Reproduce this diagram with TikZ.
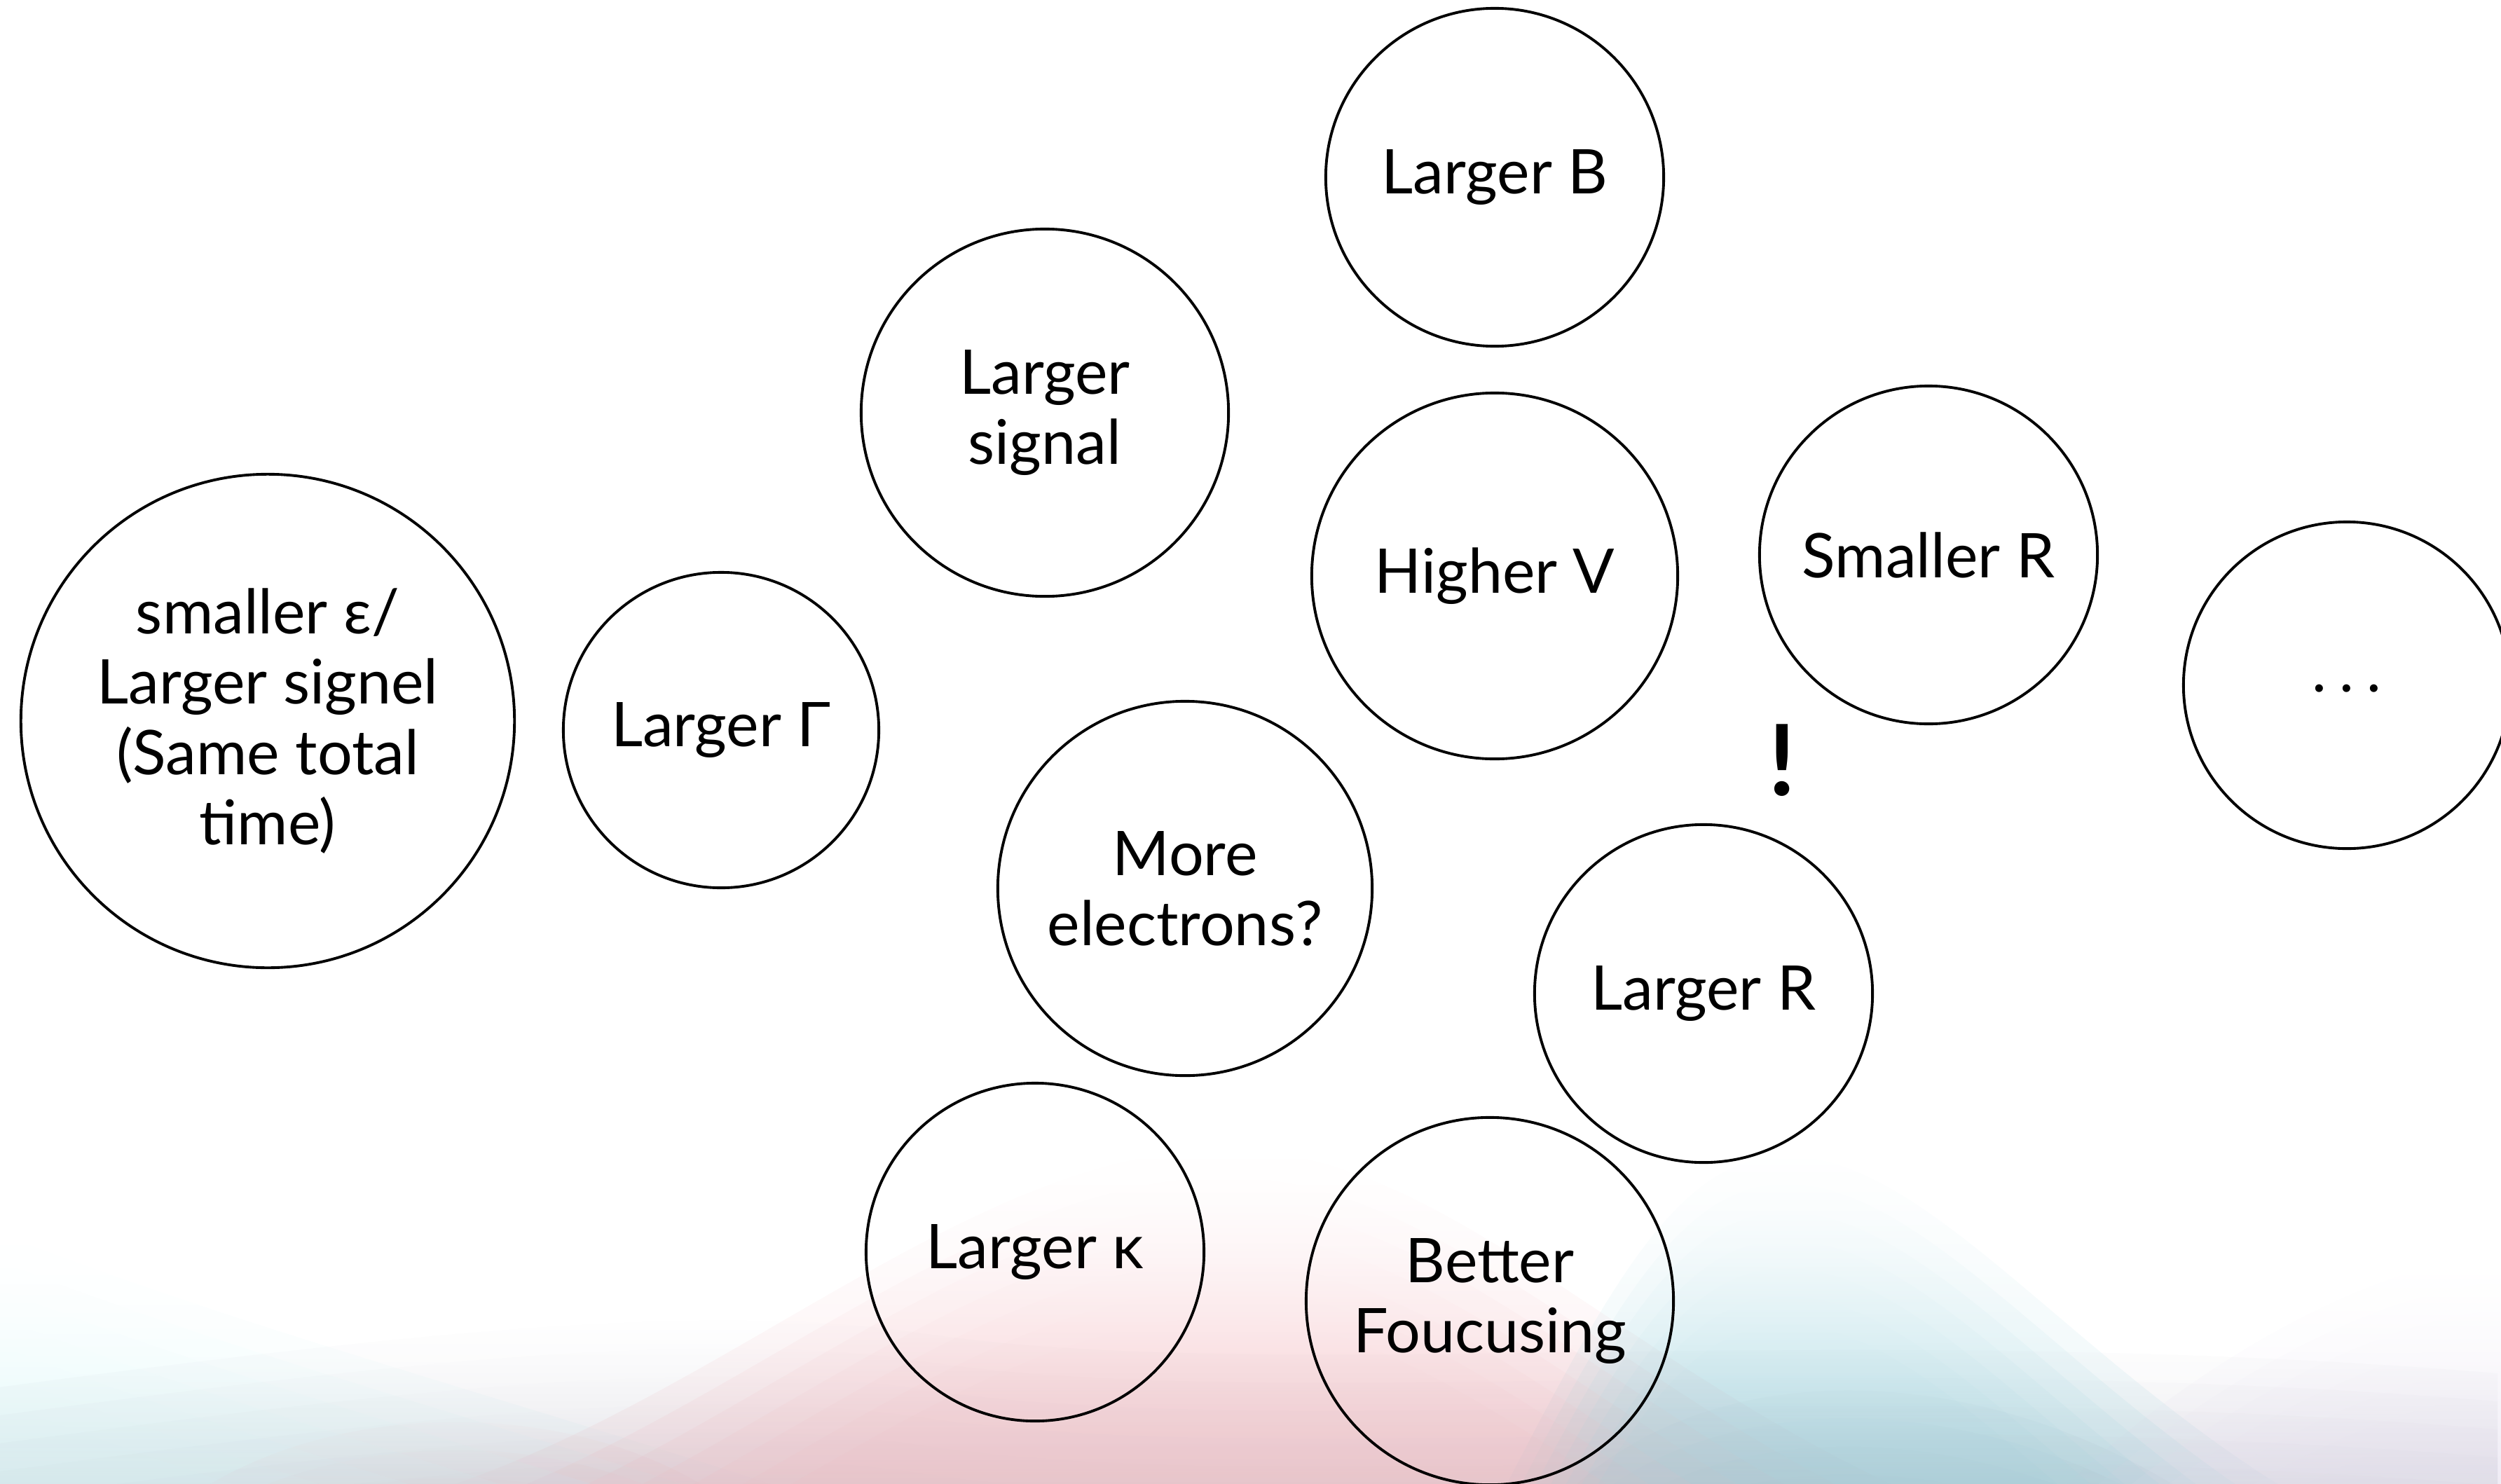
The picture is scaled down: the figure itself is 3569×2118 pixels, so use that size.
\documentclass[tikz,border=0pt]{standalone}
\usepackage{fontspec}
\setmainfont{Lato}
\usetikzlibrary{fadings}
\definecolor{wavegray}{HTML}{C9C9D3}
\definecolor{wavepink}{HTML}{F2B8BE}
\definecolor{waveteal}{HTML}{9ED3DE}
\definecolor{wavecyan}{HTML}{D2F6F7}
\definecolor{wavelav}{HTML}{E6E0EF}
\definecolor{waveslate}{HTML}{A3B9C3}
\tikzfading[name=softtop, top color=transparent!100, bottom color=transparent!0]
\begin{document}
\begin{tikzpicture}[
x=0.01cm, y=-0.01cm,
bubble/.style={circle, draw=black, line width=1.1pt, align=center, inner sep=0pt, font=\fontsize{25}{28.5}\selectfont},
wave/.style={draw=none, path fading=softtop, opacity=0.2},
]
\useasboundingbox (0,0) rectangle (3569,2118);
%Background
\foreach \k in {0,...,6} {
\begin{scope}[yshift=-\k*4mm]
\fill[wave, wavecyan] (0,1760) .. controls (300,1880) and (700,1990) .. (1100,2118) -- (0,2118) -- cycle;
\fill[wave, wavegray] (0,1980) .. controls (600,1900) and (1000,1860) .. (1300,1900) .. controls (1800,1980) and (2600,1880) .. (3569,1960) -- (3569,2118) -- (0,2118) -- cycle;
\fill[wave, wavepink] (650,2118) .. controls (1050,1980) and (1400,1640) .. (1750,1640) .. controls (2050,1640) and (2300,1930) .. (2700,2118) -- cycle;
\fill[wave, waveteal] (2150,2118) .. controls (2300,1830) and (2400,1640) .. (2560,1650) .. controls (2750,1660) and (2950,1930) .. (3250,2118) -- cycle;
\fill[wave, waveslate] (2250,2118) .. controls (2450,1940) and (2800,1940) .. (3100,2118) -- cycle;
\fill[wave, wavelav] (2950,2118) .. controls (3150,1930) and (3400,1800) .. (3569,1790) -- (3569,2118) -- cycle;
\fill[wave, wavepink] (300,2118) .. controls (500,2000) and (800,2000) .. (1000,2118) -- cycle;
\end{scope}
}

%Nodes
\node[bubble, minimum size=7.04cm] (epsilon) at (382,1029) {smaller ε/\\Larger signel\\(Same total\\time)};
\node[bubble, minimum size=4.50cm] (gamma) at (1029,1042) {Larger Γ};
\node[bubble, minimum size=5.24cm] (signal) at (1491,589) {Larger\\signal};
\node[bubble, minimum size=4.82cm] (bfield) at (2133,253) {Larger B};
\node[bubble, minimum size=5.22cm] (voltage) at (2133,822) {Higher V};
\node[bubble, minimum size=4.82cm] (smaller_r) at (2752,792) {Smaller R};
\node[bubble, minimum size=4.66cm] (more) at (3349,978) {\raisebox{-0.2cm}{.\hspace{0.18cm}.\hspace{0.18cm}.}};
\node[bubble, minimum size=5.34cm] (electrons) at (1691,1268) {More\\electrons?};
\node[bubble, minimum size=4.82cm] (larger_r) at (2431,1418) {Larger R};
\node[bubble, minimum size=4.82cm] (kappa) at (1477,1787) {Larger κ};
\node[bubble, minimum size=5.24cm] (focusing) at (2126,1857) {Better\\Foucusing};
\node[font=\fontsize{40}{40}\selectfont\bfseries] (bang) at (2543,1085) {!};

\end{tikzpicture}
\end{document}
